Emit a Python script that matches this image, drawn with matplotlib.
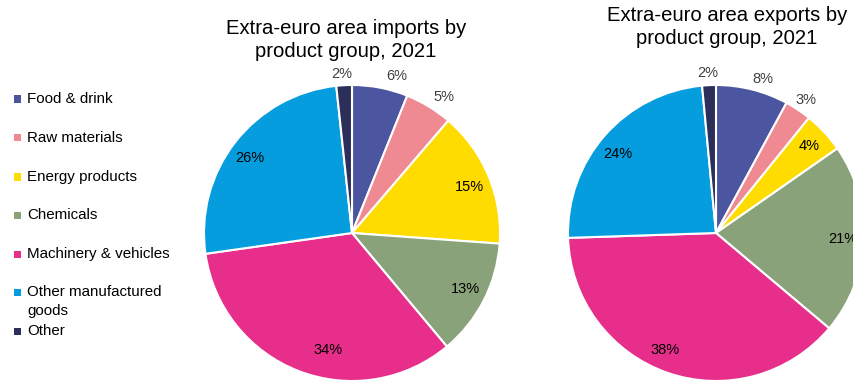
import numpy as np
import matplotlib
matplotlib.use("Agg")
import matplotlib.pyplot as plt
from matplotlib.patches import Rectangle

plt.rcParams['font.family'] = ['Liberation Sans', 'DejaVu Sans']

categories = ["Food & drink", "Raw materials", "Energy products", "Chemicals",
              "Machinery & vehicles", "Other manufactured\ngoods", "Other"]
colors = ["#4B55A0", "#F08A92", "#FFDC00", "#8AA27A", "#E62E8A", "#069DDF", "#2B2F5A"]

imports_share = [6.1, 5.2, 14.9, 12.8, 33.9, 25.6, 1.7]
imports_labels = ["6%", "5%", "15%", "13%", "34%", "26%", "2%"]
exports_share = [7.9, 2.9, 4.5, 20.8, 38.3, 24.0, 1.5]
exports_labels = ["8%", "3%", "4%", "21%", "38%", "24%", "2%"]
# which labels sit outside the pie
imports_outside = [True, True, False, False, False, False, True]
exports_outside = [True, True, False, False, False, False, True]
# small label nudges in pixels (x right, y down), like the original's layout
imports_nudge = [(14, 3), (7, 3), (0, 3), (0, -2), (22, -2), (-2, 3), (-2, 4)]
exports_nudge = [(7, 4), (0, 2), (0, 0), (0, 0), (-9, -3), (-3, 5), (-1, 3)]

W, H = 854, 381
fig = plt.figure(figsize=(W / 100, H / 100), dpi=100)


def draw_pie(cx, cy, r, values, labels, outside, nudge):
    ax = fig.add_axes([(cx - r) / W, (H - cy - r) / H, 2 * r / W, 2 * r / H])
    wedges, _ = ax.pie(values, colors=colors, startangle=90, counterclock=False,
                       radius=1.0, wedgeprops=dict(edgecolor="white", linewidth=1.5))
    ax.set_xlim(-1, 1)
    ax.set_ylim(-1, 1)
    ax.set_aspect("equal")
    ax.axis("off")
    for w, lab, out, (nx, ny) in zip(wedges, labels, outside, nudge):
        mid = np.deg2rad((w.theta1 + w.theta2) / 2)
        d = 1.1 if out else 0.86
        col = "#404040" if out else "black"
        ax.text(d * np.cos(mid) + nx / r, d * np.sin(mid) - ny / r, lab,
                ha="center", va="center", fontsize=10.5, color=col, clip_on=False)
    return ax


draw_pie(352, 233, 148, imports_share, imports_labels, imports_outside, imports_nudge)
draw_pie(716, 233, 148, exports_share, exports_labels, exports_outside, exports_nudge)

fig.text(346 / W, 1 - 40 / H, "Extra-euro area imports by\nproduct group, 2021",
         ha="center", va="center", fontsize=14.6, linespacing=1.25)
fig.text(727 / W, 1 - 27 / H, "Extra-euro area exports by\nproduct group, 2021",
         ha="center", va="center", fontsize=14.6, linespacing=1.25)

# legend
legend_y = [99, 138, 177, 215, 254, 292, 331]
for name, c, y in zip(categories, colors, legend_y):
    fig.add_artist(Rectangle((14 / W, 1 - (y + 3.5) / H), 7 / W, 7 / H,
                             transform=fig.transFigure, facecolor=c, edgecolor="none"))
    if "\n" in name:
        fig.text(27 / W, 1 - (y - 7) / H, name, ha="left", va="top",
                 fontsize=10.9, linespacing=1.45)
    else:
        fig.text(27 / W, 1 - y / H, name, ha="left", va="center", fontsize=10.9)

fig.savefig("out.png", dpi=100)
